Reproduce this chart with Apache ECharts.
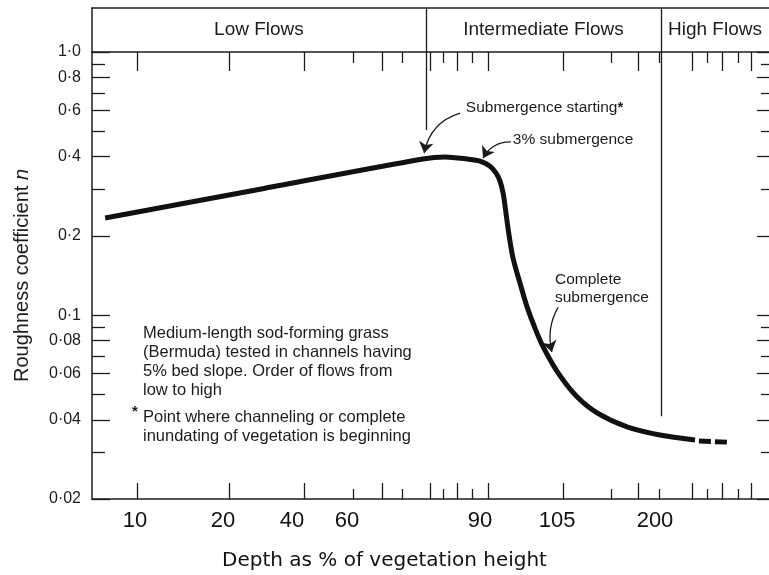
<!DOCTYPE html>
<html>
<head>
<meta charset="utf-8">
<title>Roughness coefficient vs depth</title>
<script src="https://cdn.jsdelivr.net/npm/echarts@6.0.0/dist/echarts.min.js"></script>
<style>
  html, body { margin: 0; padding: 0; background: #fff; }
  #chart { width: 769px; height: 575px; }
</style>
</head>
<body>
<div id="chart"></div>
<script>
// curve: depth (% of vegetation height) and Manning n
const depth = [6.6, 31.9, 77.1, 82.1, 87.1, 90.0, 91.9, 93.1, 93.9, 94.5, 94.9, 95.5, 96.4, 97.8, 99.2, 100.7, 102.3, 106.0, 124.4, 143.8, 172.9, 204.8, 238.8]
const roughness = [0.234, 0.303, 0.392, 0.399, 0.392, 0.385, 0.369, 0.347, 0.323, 0.291, 0.258, 0.211, 0.166, 0.132, 0.107, 0.0893, 0.0757, 0.0603, 0.0489, 0.0425, 0.0376, 0.0350, 0.0335]
// dashed extrapolation at the end
const tailDepth = [242.6, 269.7]
const tailRoughness = [0.0332, 0.0329]

const depthLabels = [10, 20, 40, 60, 90, 105, 200]
const majorTickDepths = [10.3, 21.7, 44.4, 67.9, 78.7, 84.8, 91.6, 110.8, 183.5, 235.9, 264.9, 293]
const minorTickDepths = [61.4, 72.4, 81.7, 88.2, 157.3, 203.8, 250.4, 280.4]
const nLabels = [0.02, 0.04, 0.06, 0.08, 0.1, 0.2, 0.4, 0.6, 0.8, 1.0]
const nMinor = [0.03, 0.05, 0.07, 0.09, 0.3, 0.5, 0.7, 0.9]

const flowNames = ['Low Flows', 'Intermediate Flows', 'High Flows']
const flowBreaks = [77.8, 205.8]
const flowBreakEnds = [0.505, 0.0413]

// callouts: [depth, n] of the label start and of the arrow head
const calloutText = ['Submergence starting{s|*}', '3% submergence', 'Complete\nsubmergence']
const calloutAt = [[86.8, 0.613], [96.4, 0.463], [104.6, 0.1257]]
const arrowFrom = [[85.5, 0.586], [96.0, 0.455], [106.0, 0.107]]
const arrowTo = [[77.4, 0.413], [90.6, 0.395], [104.0, 0.0724]]

const noteLines = ['Medium-length sod-forming grass', '(Bermuda) tested in channels having', '5% bed slope. Order of flows from', 'low to high']
const footLines = ['Point where channeling or complete', 'inundating of vegetation is beginning']

// the printed depth axis is not uniform, so map it piecewise between the printed labels
const scaleDepth = [5.1, 10, 20, 40, 60, 90, 105, 200, 310.5]
const scalePos = [0, 6.35, 19.35, 29.54, 37.67, 57.31, 68.69, 83.16, 100]
function toAxis(d) {
  let i = 0
  while (i < scaleDepth.length - 2 && d > scaleDepth[i + 1]) i++
  const t = (d - scaleDepth[i]) / (scaleDepth[i + 1] - scaleDepth[i])
  return scalePos[i] + t * (scalePos[i + 1] - scalePos[i])
}
const ln = v => Math.log10(v)
const pt = p => [toAxis(p[0]), ln(p[1])]

function nText(v) {
  let s = String(parseFloat(Math.pow(10, v).toPrecision(2)))
  if (s.indexOf('.') < 0) s += '.0'
  return s.replace('.', '\u00b7')
}
function depthText(v) {
  let best = 0
  depthLabels.forEach((d, i) => {
    if (Math.abs(toAxis(d) - v) < Math.abs(toAxis(depthLabels[best]) - v)) best = i
  })
  return String(depthLabels[best])
}

const ink = '#1c1c1c'
const font = 'Liberation Sans'
const tickLine = { color: ink, width: 1.3 }

function xAxisDef(position, values, len, opts) {
  return Object.assign({
    type: 'value', gridIndex: 0, position: position, min: 0, max: 100,
    axisLine: { show: false, onZero: false, lineStyle: { color: ink, width: 1.5 } },
    axisTick: { show: true, inside: true, length: len, customValues: values.map(toAxis), lineStyle: tickLine },
    axisLabel: { show: false },
    splitLine: { show: false }
  }, opts || {})
}
function yAxisDef(position, values, len, opts) {
  return Object.assign({
    type: 'value', gridIndex: 0, position: position, min: ln(0.02), max: 0,
    axisLine: { show: false, onZero: false, lineStyle: { color: ink, width: 1.5 } },
    axisTick: { show: true, inside: true, length: len, customValues: values.map(ln), lineStyle: tickLine },
    axisLabel: { show: false },
    splitLine: { show: false }
  }, opts || {})
}

const chart = echarts.init(document.getElementById('chart'))

const option = {
  animation: false,
  title: {
    text: 'Depth as % of vegetation height',
    left: 222, top: 551, padding: 0,
    textStyle: { fontFamily: 'DejaVu Sans', fontSize: 20, fontWeight: 'normal', color: '#111' }
  },
  grid: [
    { left: 92, right: 0, top: 52, bottom: 76, outerBoundsMode: 'none' },
    { left: 92, right: 0, top: 8, height: 44, outerBoundsMode: 'none' }
  ],
  xAxis: [
    xAxisDef('bottom', majorTickDepths, 16, {
      axisLine: { show: true, onZero: false, lineStyle: { color: ink, width: 1.5 } },
      axisLabel: {
        show: true, customValues: depthLabels.map(toAxis), formatter: depthText,
        margin: 11, fontFamily: font, fontSize: 22, color: '#111'
      }
    }),
    xAxisDef('bottom', minorTickDepths, 10),
    xAxisDef('top', majorTickDepths, 19, {
      axisLine: { show: true, onZero: false, lineStyle: { color: ink, width: 1.5 } }
    }),
    xAxisDef('top', minorTickDepths, 11),
    {
      type: 'value', gridIndex: 1, position: 'top', min: 0, max: 100,
      axisLine: { show: true, onZero: false, lineStyle: { color: ink, width: 1.5 } },
      axisTick: { show: false }, axisLabel: { show: false }, splitLine: { show: false }
    }
  ],
  yAxis: [
    yAxisDef('left', nLabels, 18, {
      axisLine: { show: true, onZero: false, lineStyle: { color: ink, width: 1.5 } },
      axisLabel: {
        show: true, customValues: nLabels.map(ln), formatter: nText,
        margin: 11, fontFamily: font, fontSize: 16, color: ink
      },
      name: 'Roughness coefficient {i|n}',
      nameLocation: 'middle', nameRotate: 90, nameGap: 60,
      nameTextStyle: {
        fontFamily: font, fontSize: 20, color: ink,
        rich: { i: { fontFamily: font, fontSize: 20, fontStyle: 'italic', color: ink } }
      }
    }),
    yAxisDef('left', nMinor, 13),
    yAxisDef('right', nLabels, 12),
    yAxisDef('right', nMinor, 8),
    {
      type: 'value', gridIndex: 1, position: 'left', min: 0, max: 1,
      axisLine: { show: true, onZero: false, lineStyle: { color: ink, width: 1.5 } },
      axisTick: { show: false }, axisLabel: { show: false }, splitLine: { show: false }
    }
  ],
  series: [
    {
      name: 'n', type: 'line', xAxisIndex: 0, yAxisIndex: 0,
      data: depth.map((d, i) => [toAxis(d), ln(roughness[i])]),
      showSymbol: false, symbol: 'none', silent: true,
      smooth: 0.3,
      lineStyle: { color: '#111', width: 5, join: 'round', cap: 'butt' },
      markPoint: {
        silent: true, animation: false,
        symbol: 'circle', symbolSize: 0,
        itemStyle: { color: 'transparent' },
        label: {
          show: true, position: 'right', distance: 0,
          fontFamily: font, fontSize: 15.5, color: ink, lineHeight: 18,
          rich: { s: { fontFamily: font, fontSize: 15, fontWeight: 'bold', color: ink } }
        },
        data: calloutText.map((t, i) => ({ coord: pt(calloutAt[i]), label: { formatter: t } }))
      }
    },
    {
      name: 'n (extended)', type: 'line', xAxisIndex: 0, yAxisIndex: 0,
      data: tailDepth.map((d, i) => [toAxis(d), ln(tailRoughness[i])]),
      showSymbol: false, symbol: 'none', silent: true,
      lineStyle: { color: '#111', width: 5, type: [12, 4], cap: 'butt' },
      // flow regime boundaries running down into the plot
      markLine: {
        silent: true, animation: false, symbol: 'none',
        label: { show: false },
        lineStyle: { type: 'solid', color: ink, width: 1.3 },
        data: flowBreaks.map((d, i) => [
          { coord: [toAxis(d), 0] },
          { coord: [toAxis(d), ln(flowBreakEnds[i])] }
        ])
      }
    },
    {
      // curved callout arrows
      name: 'callouts', type: 'lines', coordinateSystem: 'cartesian2d',
      xAxisIndex: 0, yAxisIndex: 0, silent: true,
      symbol: ['none', 'arrow'], symbolSize: [8, 11],
      lineStyle: { color: ink, width: 1.3, curveness: -0.3, opacity: 1 },
      data: arrowFrom.map((p, i) => ({
        coords: [pt(p), pt(arrowTo[i])],
        lineStyle: { curveness: i === 2 ? -0.2 : -0.3 }
      }))
    },
    {
      name: 'flows', type: 'line', xAxisIndex: 4, yAxisIndex: 4, data: [],
      silent: true,
      markArea: {
        silent: true,
        itemStyle: { color: 'transparent' },
        label: { show: true, position: 'inside', fontFamily: font, fontSize: 19, color: ink },
        data: flowNames.map((name, i) => {
          const a = i === 0 ? 0 : toAxis(flowBreaks[i - 1])
          const b = i === flowNames.length - 1 ? 100 : toAxis(flowBreaks[i])
          return [{ name: name, xAxis: a, yAxis: 0 }, { xAxis: b, yAxis: 1 }]
        })
      },
      markLine: {
        silent: true, symbol: 'none',
        label: { show: false },
        lineStyle: { type: 'solid', color: ink, width: 1.3 },
        data: flowBreaks.map(d => ({ xAxis: toAxis(d) }))
      }
    }
  ],
  graphic: [
    {
      type: 'text', left: 143, top: 324,
      style: { text: noteLines.join('\n'), fontFamily: font, fontSize: 16.5, lineHeight: 19, fill: ink }
    },
    {
      type: 'text', left: 132, top: 404,
      style: { text: '*', fontFamily: font, fontSize: 15, fontWeight: 'bold', fill: ink }
    },
    {
      type: 'text', left: 143, top: 408,
      style: { text: footLines.join('\n'), fontFamily: font, fontSize: 16.5, lineHeight: 19, fill: ink }
    }
  ]
}
chart.setOption(option)
</script>
</body>
</html>
